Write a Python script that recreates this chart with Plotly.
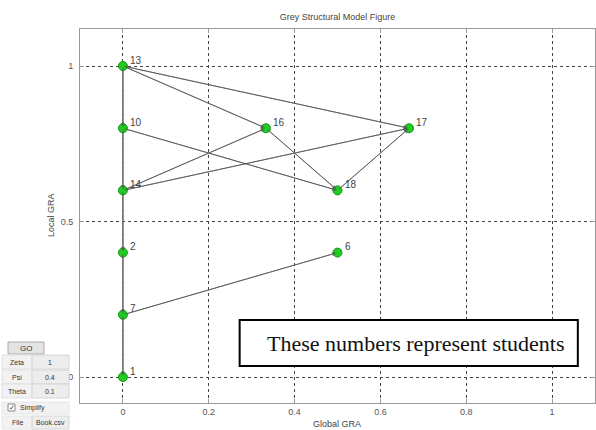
import plotly.graph_objects as go

# ---- data ----
node_ids = ["1", "2", "7", "10", "13", "14", "16", "17", "18", "6"]
global_gra = [0, 0, 0, 0, 0, 0, 0.3333, 0.6667, 0.5, 0.5]
local_gra = [0, 0.4, 0.2, 0.8, 1.0, 0.6, 0.8, 0.8, 0.6, 0.4]

chain = ["13", "10", "14", "2", "7", "1"]
edges_src = ["13", "13", "10", "14", "14", "16", "18", "7"]
edges_dst = ["16", "17", "18", "16", "17", "18", "17", "6"]

x_ticks = [0, 0.2, 0.4, 0.6, 0.8, 1]
x_tick_labels = ["0", "0.2", "0.4", "0.6", "0.8", "1"]
y_ticks = [0, 0.5, 1]
y_tick_labels = ["0", "0.5", "1"]

pos = {n: (gx, ly) for n, gx, ly in zip(node_ids, global_gra, local_gra)}

W, H = 596, 430
ML, MR, MT, MB = 80, 1, 29, 27
PW, PH = W - ML - MR, H - MT - MB


def px(x):
    return (x - ML) / PW


def py(y):
    return (H - MB - y) / PH


fig = go.Figure()

# vertical chain line
fig.add_trace(go.Scatter(
    x=[pos[n][0] for n in chain], y=[pos[n][1] for n in chain],
    mode="lines", line=dict(color="#8a8a8a", width=1.6),
    hoverinfo="skip", showlegend=False))

# edges
ex, ey = [], []
for s, d in zip(edges_src, edges_dst):
    ex += [pos[s][0], pos[d][0], None]
    ey += [pos[s][1], pos[d][1], None]
fig.add_trace(go.Scatter(x=ex, y=ey, mode="lines",
                         line=dict(color="#707070", width=1),
                         hoverinfo="skip", showlegend=False))

# nodes
fig.add_trace(go.Scatter(
    x=global_gra, y=local_gra, mode="markers",
    marker=dict(size=9, color="#22cc22", line=dict(color="#119911", width=1)),
    hoverinfo="skip", showlegend=False))

anns = []
# node labels
for n, gx, ly in zip(node_ids, global_gra, local_gra):
    anns.append(dict(x=gx, y=ly, xref="x", yref="y", text=n, showarrow=False,
                     xanchor="left", yanchor="middle", xshift=5, yshift=6,
                     font=dict(family="Liberation Sans, Arial", size=10,
                               color="#444")))

# arrowheads
for s, d in list(zip(edges_src, edges_dst)) + list(zip(chain[:-1], chain[1:])):
    anns.append(dict(x=pos[d][0], y=pos[d][1], ax=pos[s][0], ay=pos[s][1],
                     xref="x", yref="y", axref="x", ayref="y", text="",
                     showarrow=True, arrowhead=2, arrowsize=0.9, arrowwidth=1,
                     arrowcolor="rgba(80,80,80,0.6)", standoff=1))

# text box
anns.append(dict(x=0.684, y=0.109, xref="x", yref="y",
                 text="These numbers represent students", showarrow=False,
                 font=dict(family="Liberation Serif, Times New Roman", size=22,
                           color="#111")))

shapes = [dict(type="rect", xref="x", yref="y", x0=0.272, x1=1.06, y0=0.035,
               y1=0.183, line=dict(color="black", width=2), fillcolor="white",
               layer="above")]


def box(x0, y0, x1, y1, fill="#efefef", line="#cfcfcf"):
    shapes.append(dict(type="rect", xref="paper", yref="paper",
                       x0=px(x0), x1=px(x1), y0=py(y1), y1=py(y0),
                       line=dict(color=line, width=1), fillcolor=fill))


def label(x, y, t, anchor="center", size=8, color="#333"):
    anns.append(dict(x=px(x), y=py(y), xref="paper", yref="paper", text=t,
                     showarrow=False, xanchor=anchor, yanchor="middle",
                     font=dict(family="Liberation Sans, Arial", size=size,
                               color=color)))


# control panel (outside plot)
box(8, 342, 44, 354, fill="#e4e4e4", line="#aaaaaa")
label(26, 348, "GO")
rows = [("Zeta", "1", 362), ("Psi", "0.4", 377), ("Theta", "0.1", 391)]
for nm, val, yc in rows:
    box(2, yc - 7, 32, yc + 7, fill="#f2f2f2", line="#e0e0e0")
    box(32, yc - 7, 69, yc + 7, fill="#ededed", line="#d6d6d6")
    label(17, yc, nm, size=7)
    label(50, yc, val, size=7)
box(2, 402, 69, 414, fill="#f2f2f2", line="#e6e6e6")
box(8, 404, 15, 411, fill="white", line="#888")
label(11.5, 407.5, "✓", size=7)
label(18, 408, "Simplify", anchor="left", size=7)
box(2, 416, 32, 429, fill="#f2f2f2", line="#e6e6e6")
box(32, 416, 69, 429, fill="#ededed", line="#d6d6d6")
label(17, 422, "File", size=7)
label(50, 422, "Book.csv", size=7)

# axis titles
label(337, 424, "Global GRA", size=9, color="#444")
anns.append(dict(x=px(51), y=py(215), xref="paper", yref="paper",
                 text="Local GRA", showarrow=False, textangle=-90,
                 xanchor="center", yanchor="middle",
                 font=dict(family="Liberation Sans, Arial", size=9, color="#444")))

axis_common = dict(showline=True, linecolor="#999", linewidth=1, mirror="ticks",
                   ticks="inside", ticklen=4, tickcolor="#999",
                   showgrid=True, gridcolor="#444", griddash="dot", gridwidth=1,
                   zeroline=False, automargin=False,
                   tickfont=dict(family="Liberation Sans, Arial", size=9,
                                 color="#555"))

fig.update_layout(
    width=W, height=H, margin=dict(l=ML, r=MR, t=MT, b=MB, autoexpand=False),
    paper_bgcolor="white", plot_bgcolor="white",
    title=dict(text="Grey Structural Model Figure", x=337.5 / W,
               xanchor="center", y=1 - 17 / H, yanchor="middle",
               font=dict(family="Liberation Sans, Arial", size=9, color="#444")),
    xaxis=dict(range=[-0.1, 1.1], tickvals=x_ticks, ticktext=x_tick_labels,
               **axis_common),
    yaxis=dict(range=[-0.0836, 1.119], tickvals=y_ticks, ticktext=y_tick_labels,
               ticklabelstandoff=4, **axis_common),
    annotations=anns, shapes=shapes,
)

fig.write_html("out.html", config={"displayModeBar": False},
               post_script="document.body.style.margin='0';"
                           "document.body.style.overflow='hidden';")
